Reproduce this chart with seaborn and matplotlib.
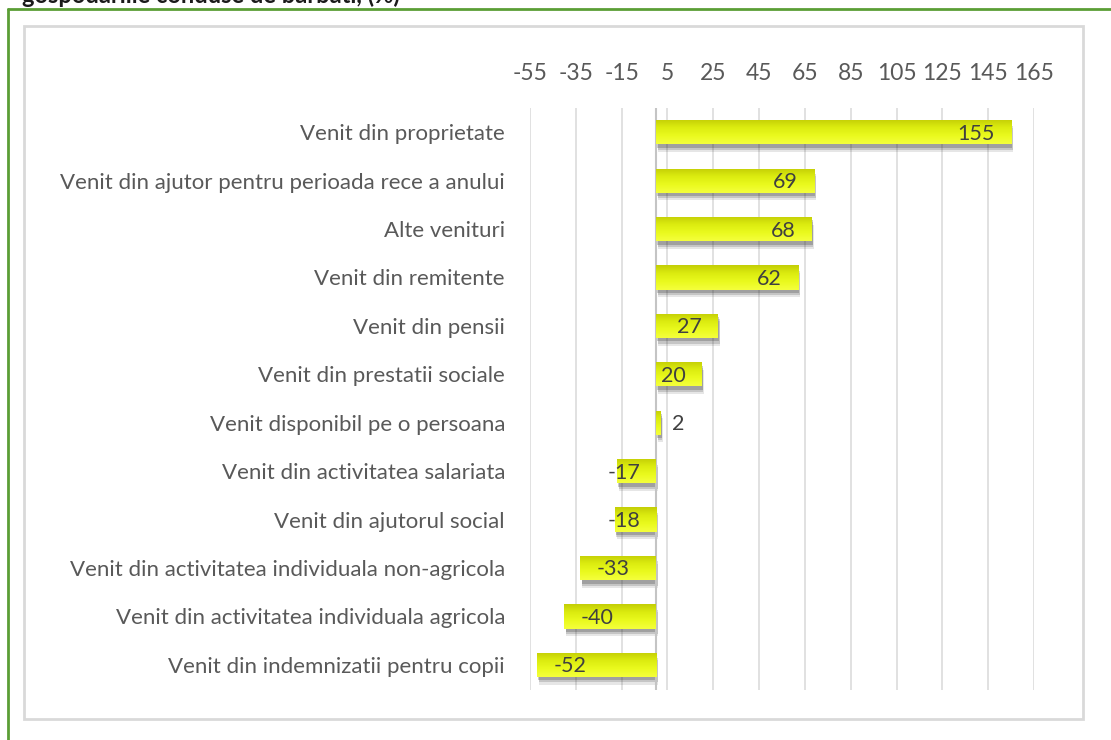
import numpy as np
import pandas as pd
import matplotlib
matplotlib.use("Agg")
import matplotlib.pyplot as plt
import matplotlib.patheffects as pe
from matplotlib.patches import Rectangle
from matplotlib.lines import Line2D
from matplotlib.colors import LinearSegmentedColormap
import seaborn as sns

categories = [
    "Venit din proprietate",
    "Venit din ajutor pentru perioada rece a anului",
    "Alte venituri",
    "Venit din remitente",
    "Venit din pensii",
    "Venit din prestatii sociale",
    "Venit disponibil pe o persoana",
    "Venit din activitatea salariata",
    "Venit din ajutorul social",
    "Venit din activitatea individuala non-agricola",
    "Venit din activitatea individuala agricola",
    "Venit din indemnizatii pentru copii",
]
values = [155, 69, 68, 62, 27, 20, 2, -17, -18, -33, -40, -52]
tick_values = list(range(-55, 166, 20))
title_text = "gospodariile conduse de barbati, (%)"

sns.set_theme(style="white")
plt.rcParams['font.family'] = ['Lato', 'DejaVu Sans']

W, H = 1111, 740
fig = plt.figure(figsize=(W / 100, H / 100), dpi=100)
ax = fig.add_axes([530 / W, 1 - 690 / H, (1034 - 530) / W, (690 - 108) / H])

df = pd.DataFrame({"cat": categories, "val": values})
sns.barplot(data=df, x="val", y="cat", orient="h", ax=ax, width=0.5,
            color="#e2f21a", saturation=1, edgecolor="none")

ax.set_xticks(tick_values)
ax.set_xticklabels([str(t) for t in tick_values])
ax.xaxis.tick_top()
ax.tick_params(axis="x", top=False, bottom=False, labeltop=True, labelbottom=False,
               pad=11.5, labelsize=16.5, labelcolor="#595959")
ax.tick_params(axis="y", left=False, pad=12, labelsize=16, labelcolor="#595959")
ax.set_xlabel("")
ax.set_ylabel("")
for s in ax.spines.values():
    s.set_visible(False)
ax.grid(axis="x", color="#dcdcdc", linewidth=1.2)
ax.set_axisbelow(True)
ax.axvline(0, color="#c4c4c4", linewidth=1.5, zorder=1)

# gradient fill for bars
grad = np.linspace(0, 1, 64).reshape(-1, 1)
cmap = LinearSegmentedColormap.from_list("yg", ["#f4ff3c", "#eafa1e", "#dcec10", "#c4ce06"])
for p in ax.patches:
    p.set_path_effects([
        pe.SimplePatchShadow(offset=(1.5, -5.5), shadow_rgbFace="#333333", alpha=0.12),
        pe.SimplePatchShadow(offset=(1.2, -4), shadow_rgbFace="#333333", alpha=0.18),
        pe.SimplePatchShadow(offset=(1, -2.5), shadow_rgbFace="#333333", alpha=0.25),
        pe.Normal()])
    x0, y0 = p.get_x(), p.get_y()
    w, h = p.get_width(), p.get_height()
    im = ax.imshow(grad, extent=[x0, x0 + w, y0, y0 + h], aspect="auto", cmap=cmap,
                   origin="upper", zorder=p.get_zorder() + 0.1)
    im.set_clip_path(p)
ax.set_xlim(-55, 165)
ax.set_ylim(11.52, -0.5)

# value labels
for i, v in enumerate(values):
    if v >= 10:
        ax.text(v - 7, i + 0.03, str(v), ha="right", va="center", fontsize=15.5, color="#404040", zorder=5)
    elif v >= 0:
        ax.text(v + 5, i + 0.03, str(v), ha="left", va="center", fontsize=15.5, color="#404040", zorder=5)
    else:
        ax.text(min(v + 7.3, -21), i + 0.03, str(v), ha="left", va="center", fontsize=15.5,
                color="#404040", zorder=5)

# frame decorations
fig.add_artist(Rectangle((24 / W, 1 - 719 / H), (1083 - 24) / W, (719 - 26) / H,
                         transform=fig.transFigure, fill=False, edgecolor="#d9d9d9", linewidth=2))
fig.add_artist(Line2D([8 / W, 1], [1 - 9 / H, 1 - 9 / H], transform=fig.transFigure,
                      color="#5b9e35", linewidth=2))
fig.add_artist(Line2D([8 / W, 8 / W], [1 - 9 / H, 0], transform=fig.transFigure,
                      color="#5b9e35", linewidth=2))
fig.text(22 / W, 1 - 3 / H, title_text, ha="left", va="baseline", fontsize=17,
         fontweight="bold", color="#1a1a1a")

fig.savefig("out.png", dpi=100)
